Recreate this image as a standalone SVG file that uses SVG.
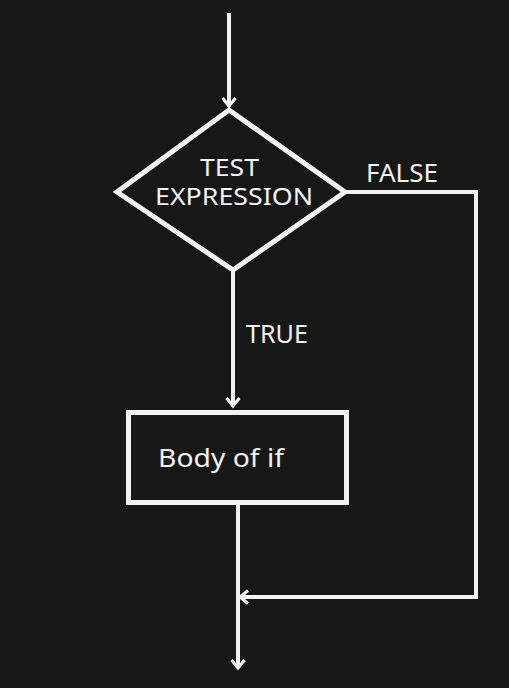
<svg xmlns="http://www.w3.org/2000/svg" width="509" height="688" viewBox="0 0 509 688">
  <style>
    .shape { fill: none; stroke: #f2f2f2; stroke-width: 5; stroke-linejoin: miter; }
    .wire { fill: none; stroke: #f2f2f2; stroke-width: 4; }
    .label { font-family: "Noto Sans", "Liberation Sans", sans-serif; font-size: 25px; fill: #f2f2f2; }
    .tight { font-size: 23px; }
  </style>
  <defs>
    <marker id="chevron" markerUnits="userSpaceOnUse" markerWidth="20" markerHeight="20" viewBox="-12 -10 16 20" refX="0" refY="0" orient="auto">
      <path d="M-8,-6.5 L0,0 L-8,6.5" fill="none" stroke="#f2f2f2" stroke-width="3"/>
    </marker>
  </defs>

  <rect width="509" height="688" fill="#171717"/>

  <g id="connectors">
    <!-- entry into the test -->
    <path class="wire" d="M229,13 V106" marker-end="url(#chevron)"/>
    <!-- true branch into the body -->
    <path class="wire" d="M233,270 V406" marker-end="url(#chevron)"/>
    <!-- false branch bypassing the body -->
    <path class="wire" d="M345,192 H476 V597 H240" marker-end="url(#chevron)"/>
    <!-- exit -->
    <path class="wire" d="M238,505 V668" marker-end="url(#chevron)"/>
    <text class="label" x="366" y="182" textLength="72" lengthAdjust="spacingAndGlyphs">FALSE</text>
    <text class="label" x="246" y="343" textLength="62" lengthAdjust="spacingAndGlyphs">TRUE</text>
  </g>

  <g id="test-expression">
    <polygon class="shape" points="229,110 345,192 233,270 117,192"/>
    <text class="label tight" x="229.5" y="176" text-anchor="middle" textLength="59" lengthAdjust="spacingAndGlyphs">TEST</text>
    <text class="label tight" x="234" y="205" text-anchor="middle" textLength="158" lengthAdjust="spacingAndGlyphs">EXPRESSION</text>
  </g>

  <g id="body-of-if">
    <rect class="shape" x="128.5" y="412.5" width="218" height="90"/>
    <text class="label" x="158" y="467" textLength="126" lengthAdjust="spacingAndGlyphs" font-size="26">Body of if</text>
  </g>
</svg>
